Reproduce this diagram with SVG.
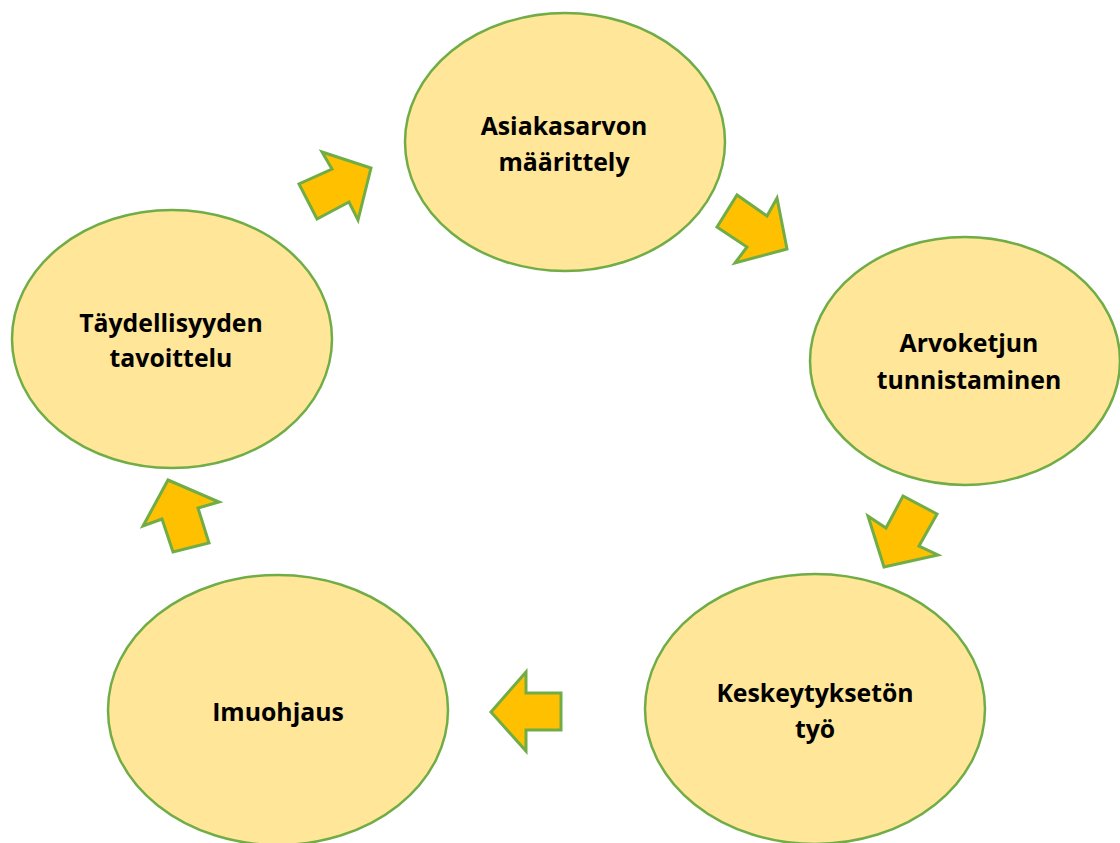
<svg xmlns="http://www.w3.org/2000/svg" width="1120" height="843" viewBox="0 0 1120 843">
  <style>
    .node ellipse { fill: #FFE699; stroke: #70AD47; stroke-width: 2.5; }
    .node text { font-family: "Open Sans", "Liberation Sans", sans-serif; font-weight: bold; font-size: 24.8px; fill: #000; text-anchor: middle; }
    .arrow { fill: #FFC000; stroke: #70AD47; stroke-width: 3; stroke-linejoin: miter; }
  </style>
  <rect width="1120" height="843" fill="#fff"/>

  <g id="node-asiakasarvo" class="node">
    <ellipse cx="565" cy="142" rx="160" ry="129"/>
    <text x="564" y="135">Asiakasarvon</text>
    <text x="564" y="171">määrittely</text>
  </g>

  <g id="node-arvoketju" class="node">
    <ellipse cx="965" cy="361" rx="155" ry="124"/>
    <text x="969" y="352">Arvoketjun</text>
    <text x="969" y="389">tunnistaminen</text>
  </g>

  <g id="node-keskeytyksetön" class="node">
    <ellipse cx="815" cy="709" rx="170" ry="135"/>
    <text x="815" y="702">Keskeytyksetön</text>
    <text x="815" y="738">työ</text>
  </g>

  <g id="node-imuohjaus" class="node">
    <ellipse cx="278" cy="710" rx="170" ry="135"/>
    <text x="278" y="721">Imuohjaus</text>
  </g>

  <g id="node-taydellisyys" class="node">
    <ellipse cx="172" cy="339" rx="160" ry="129"/>
    <text x="171" y="332">Täydellisyyden</text>
    <text x="171" y="367">tavoittelu</text>
  </g>

  <g id="connectors">
    <polygon class="arrow" points="371,168 358,220 349,202 317,219 299,184 332,169 322,152"/>
    <polygon class="arrow" points="787,249 735,263 747,247 717,227 737,195 767,216 777,198"/>
    <polygon class="arrow" points="884,567 868,516 886,528 903,496 937,514 919,546 938,555"/>
    <polygon class="arrow" points="491,712 526,672 526,693 561,693 561,730 526,730 526,751"/>
    <polygon class="arrow" points="168,480 219,502 198,508 209,543 173,552 162,519 143,526"/>
  </g>
</svg>
